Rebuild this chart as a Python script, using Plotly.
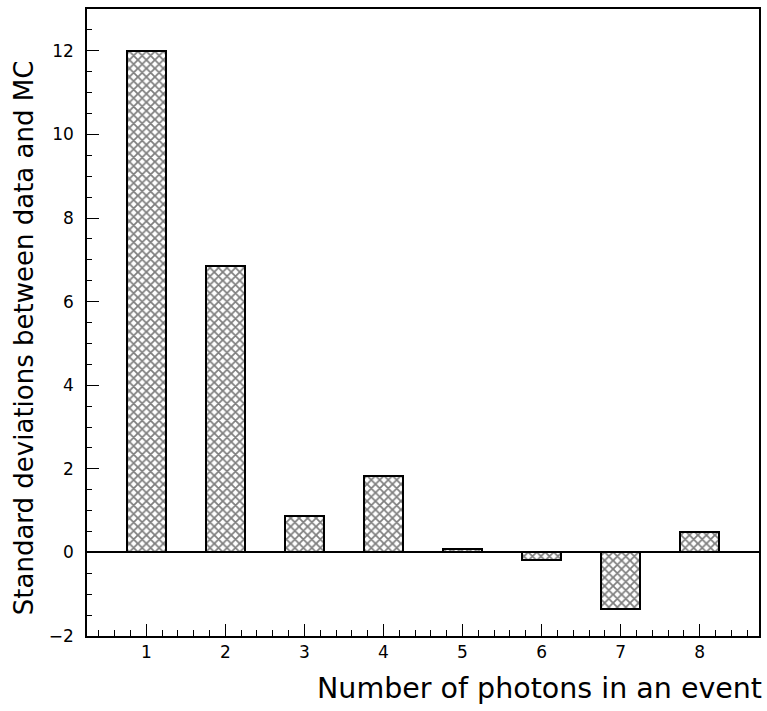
import plotly.graph_objects as go

n_photons = [1, 2, 3, 4, 5, 6, 7, 8]
std_devs = [12.0, 6.84, 0.88, 1.82, 0.07, -0.19, -1.36, 0.48]
x_ticks = [1, 2, 3, 4, 5, 6, 7, 8]
y_ticks = [-2, 0, 2, 4, 6, 8, 10, 12]

FONT = "DejaVu Sans"

fig = go.Figure()
fig.add_trace(go.Bar(
    x=n_photons, y=std_devs, width=0.5,
    marker=dict(
        color="white",
        line=dict(color="black", width=2),
        pattern=dict(shape="x", fgcolor="black", bgcolor="white", size=6, solidity=0.5),
    ),
    showlegend=False,
))

fig.update_layout(
    width=767, height=711,
    margin=dict(l=87, r=6, t=9, b=75),
    paper_bgcolor="white", plot_bgcolor="white",
    font=dict(family=FONT, color="black"),
    bargap=0,
)
fig.update_xaxes(
    range=[0.25, 8.75], tickvals=x_ticks, ticks="inside", ticklen=12, tickwidth=1,
    tickcolor="black", showline=True, linecolor="black", linewidth=1.5, mirror=True,
    showgrid=False, zeroline=False, tickfont=dict(size=17, family=FONT),
    minor=dict(ticks="inside", dtick=0.2, tick0=0, ticklen=6, tickcolor="black", showgrid=False),
)
fig.update_yaxes(
    range=[-2, 13], tickvals=y_ticks, ticks="inside", ticklen=12, tickwidth=1,
    tickcolor="black", showline=True, linecolor="black", linewidth=1.5, mirror=True,
    showgrid=False, zeroline=True, zerolinecolor="black", zerolinewidth=2,
    tickfont=dict(size=17, family=FONT), ticklabelstandoff=8,
    minor=dict(ticks="inside", dtick=0.5, ticklen=5, tickcolor="black", showgrid=False),
)

fig.add_annotation(
    text="Number of photons in an event", xref="paper", yref="paper",
    x=1.007, y=-0.083, xanchor="right", yanchor="middle", showarrow=False,
    font=dict(size=28.5, family=FONT, color="black"),
)
fig.add_annotation(
    text="Standard deviations between data and MC", xref="paper", yref="paper",
    x=-0.069, y=0.476, xanchor="right", yanchor="middle", textangle=-90, showarrow=False,
    font=dict(size=26, family=FONT, color="black"),
)

fig.write_html("out.html")
